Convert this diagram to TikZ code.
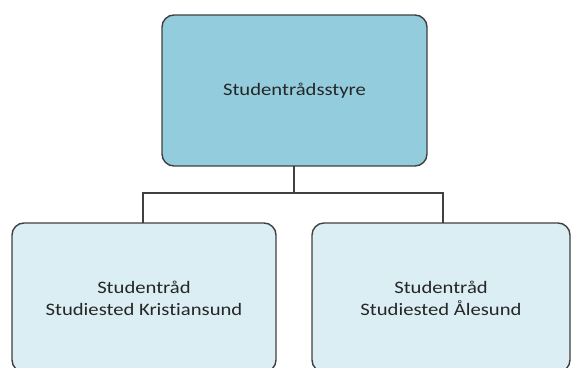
\documentclass[tikz,border=0pt]{standalone}
\usepackage{fontspec}
\setmainfont[FakeStretch=1.18,Ligatures=NoCommon]{Carlito}
\begin{document}
\begin{tikzpicture}[x=1pt,y=-1pt,
  box/.style={draw=boxline, line width=1.4pt, rounded corners=12pt},
  conn/.style={draw=boxline, line width=1.6pt},
  lbl/.style={font=\fontsize{17.5}{22}\selectfont, text=black!85, align=center}]
\definecolor{boxline}{HTML}{404040}
\definecolor{topfill}{HTML}{93CDDD}
\definecolor{lowfill}{HTML}{DBEEF4}
\useasboundingbox (0,0) rectangle (572,367);
\clip (0,0) rectangle (572,367);
\draw[box, fill=topfill] (162,15) rectangle (427,166);
\node[lbl] (top) at (294.5,90.5) {Studentrådsstyre};
\coordinate (topb) at (294,166);
\draw[box, fill=lowfill] (12,223) rectangle (276,372);
\node[lbl] (left) at (144,298) {Studentråd\\Studiested Kristiansund};
\draw[box, fill=lowfill] (312,223) rectangle (570,372);
\node[lbl] (right) at (441,298) {Studentråd\\Studiested Ålesund};
\coordinate (lt) at (143,223);
\coordinate (rt) at (443,223);
\coordinate (hl) at (143,193);
\coordinate (hr) at (443,193);
\coordinate (hm) at (294,193);
\draw[conn] (topb) -- (hm);
\draw[conn] (lt) -- (hl) -- (hr) -- (rt);
\end{tikzpicture}
\end{document}
